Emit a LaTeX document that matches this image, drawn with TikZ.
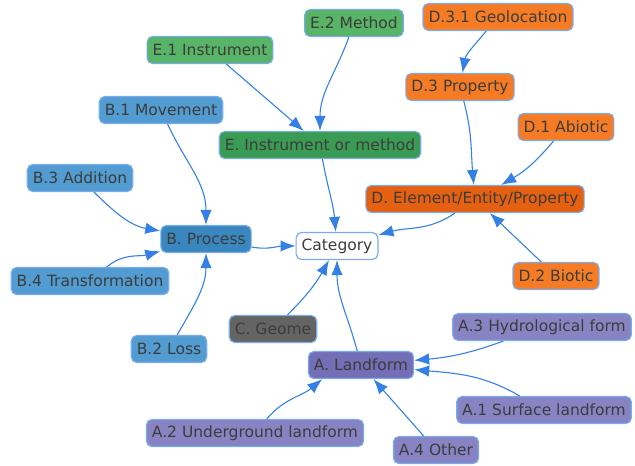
\documentclass[tikz,border=0pt]{standalone}
\usepackage{fontspec}
\setmainfont{DejaVu Sans}
\usepackage{tikz}
\usetikzlibrary{arrows.meta}

\definecolor{edgeblue}{RGB}{52,128,228}
\definecolor{rimblue}{RGB}{120,172,236}
\definecolor{inkgray}{RGB}{60,60,60}
\definecolor{grnsub}{RGB}{88,180,102}
\definecolor{grnmain}{RGB}{58,156,84}
\definecolor{orgsub}{RGB}{245,124,36}
\definecolor{orgmain}{RGB}{230,96,18}
\definecolor{blusub}{RGB}{82,156,210}
\definecolor{blumain}{RGB}{58,135,192}
\definecolor{vlsub}{RGB}{136,132,196}
\definecolor{vlmain}{RGB}{116,110,182}
\definecolor{geomgray}{RGB}{100,100,100}

\begin{document}
\begin{tikzpicture}[x=1pt,y=1pt,
    box/.style={draw=rimblue,line width=1.2pt,rounded corners=5.5pt,minimum height=27pt,
      inner xsep=5.5pt,inner ysep=2pt,text=inkgray,font=\fontsize{15.5}{18}\selectfont},
    link/.style={draw=edgeblue,line width=1.1pt,-{Latex[length=15pt,width=11.5pt]}}]
    \useasboundingbox (0,0) rectangle (635,-466);

    \node[box,fill=white] at (337,-246) (cat) {Category};

    \node[box,fill=grnmain] at (320,-145) (e) {E. Instrument or method};
    \node[box,fill=grnsub] at (210,-50) (e1) {E.1 Instrument};
    \node[box,fill=grnsub] at (354,-23) (e2) {E.2 Method};

    \node[box,fill=orgmain] at (475,-199) (d) {D. Element/Entity/Property};
    \node[box,fill=orgsub] at (566,-127) (d1) {D.1 Abiotic};
    \node[box,fill=orgsub] at (556,-276) (d2) {D.2 Biotic};
    \node[box,fill=orgsub] at (460,-87) (d3) {D.3 Property};
    \node[box,fill=orgsub] at (498,-17) (d31) {D.3.1 Geolocation};

    \node[box,fill=blumain] at (206,-239) (b) {B. Process};
    \node[box,fill=blusub] at (161,-110) (b1) {B.1 Movement};
    \node[box,fill=blusub] at (169,-349) (b2) {B.2 Loss};
    \node[box,fill=blusub] at (80,-178) (b3) {B.3 Addition};
    \node[box,fill=blusub] at (90,-281) (b4) {B.4 Transformation};

    \node[box,fill=geomgray] at (273,-329) (c) {C. Geome};

    \node[box,fill=vlmain] at (361,-365) (a) {A. Landform};
    \node[box,fill=vlsub] at (544,-410) (a1) {A.1 Surface landform};
    \node[box,fill=vlsub] at (255,-433) (a2) {A.2 Underground landform};
    \node[box,fill=vlsub] at (542,-327) (a3) {A.3 Hydrological form};
    \node[box,fill=vlsub] at (436,-450) (a4) {A.4 Other};

    \path[link]
      (e1) -- (e);
    \path[link]
      (e2) to[out=-110,in=90] (e);
    \path[link]
      (e) to[out=-80,in=95] (cat);

    \path[link]
      (d31) to[out=-130,in=80] (d3);
    \path[link]
      (d3) to[out=-75,in=95] (d);
    \path[link]
      (d1) to[bend left=10] (d);
    \path[link]
      (d2) -- (d);
    \path[link]
      (d) to[out=-145,in=15] (cat);

    \path[link]
      (b1) to[out=-65,in=90] (b);
    \path[link]
      (b3) to[out=-45,in=170] (b);
    \path[link]
      (b4) to[out=40,in=195] (b);
    \path[link]
      (b2) to[out=60,in=-90] (b);
    \path[link]
      (b) to[out=-10,in=180] (cat);

    \path[link]
      (c) to[bend right=8] (cat);

    \path[link]
      (a) to[out=105,in=-90] (cat);
    \path[link]
      (a3) to[out=-160,in=5] (a);
    \path[link]
      (a1) to[out=150,in=-5] (a);
    \path[link]
      (a2) to[out=50,in=-140] (a.-160);
    \path[link]
      (a4) -- (a);
  \end{tikzpicture}
\end{document}
